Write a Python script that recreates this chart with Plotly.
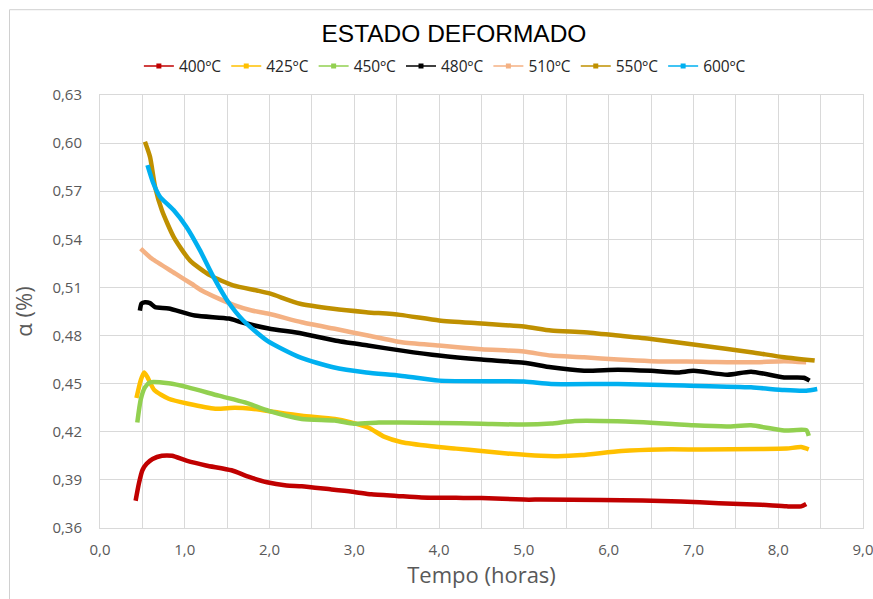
import plotly.graph_objects as go

# Tempo (horas) e fração α (%) para cada temperatura
t_400 = [0.42, 0.46, 0.50, 0.55, 0.62, 0.73, 0.85, 1.02, 1.25, 1.55, 1.75, 1.97, 2.20, 2.38, 2.73, 3.00, 3.20, 3.50, 3.79, 4.20, 4.50, 5.00, 5.20, 5.91, 6.40, 6.85, 7.30, 7.80, 8.10, 8.27, 8.33]
a_400 = [0.377, 0.388, 0.396, 0.400, 0.403, 0.405, 0.405, 0.402, 0.399, 0.396, 0.392, 0.3885, 0.3865, 0.386, 0.384, 0.3825, 0.381, 0.380, 0.379, 0.3788, 0.3787, 0.3777, 0.3777, 0.3775, 0.3772, 0.3765, 0.3755, 0.3745, 0.3735, 0.3735, 0.375]

t_425 = [0.43, 0.48, 0.52, 0.56, 0.64, 0.81, 1.04, 1.36, 1.59, 1.79, 2.10, 2.38, 2.77, 2.95, 3.17, 3.35, 3.56, 3.91, 4.20, 4.50, 4.80, 5.20, 5.40, 5.68, 6.15, 6.60, 7.10, 7.80, 8.10, 8.27, 8.36]
a_425 = [0.441, 0.452, 0.457, 0.454, 0.446, 0.4406, 0.4375, 0.4344, 0.435, 0.4344, 0.432, 0.430, 0.428, 0.426, 0.4225, 0.417, 0.4135, 0.411, 0.4095, 0.408, 0.4065, 0.405, 0.4048, 0.4055, 0.408, 0.409, 0.409, 0.4092, 0.4095, 0.4105, 0.409]

t_450 = [0.44, 0.48, 0.53, 0.59, 0.81, 1.04, 1.40, 1.71, 1.99, 2.38, 2.77, 3.00, 3.29, 3.56, 4.00, 4.50, 5.00, 5.32, 5.60, 6.10, 6.70, 7.00, 7.40, 7.68, 8.07, 8.33, 8.36]
a_450 = [0.4258, 0.440, 0.4477, 0.4508, 0.4502, 0.4477, 0.4425, 0.4383, 0.433, 0.428, 0.427, 0.425, 0.4258, 0.4258, 0.4255, 0.425, 0.4245, 0.4252, 0.4267, 0.4265, 0.425, 0.424, 0.4233, 0.424, 0.4208, 0.421, 0.4175]

t_480 = [0.47, 0.49, 0.53, 0.59, 0.65, 0.81, 1.12, 1.52, 1.67, 1.99, 2.38, 2.77, 3.16, 3.56, 4.00, 4.50, 5.00, 5.32, 5.71, 6.11, 6.50, 6.82, 7.00, 7.40, 7.68, 8.07, 8.30, 8.37]
a_480 = [0.4956, 0.5000, 0.5008, 0.5002, 0.4977, 0.4969, 0.4925, 0.4906, 0.4883, 0.4844, 0.4813, 0.4769, 0.4738, 0.4706, 0.4675, 0.465, 0.4631, 0.4602, 0.4581, 0.4587, 0.458, 0.457, 0.458, 0.4556, 0.4575, 0.4539, 0.4537, 0.4519]

t_510 = [0.48, 0.61, 0.89, 1.08, 1.20, 1.40, 1.59, 1.79, 1.99, 2.38, 2.77, 3.16, 3.56, 4.00, 4.50, 5.00, 5.32, 5.71, 6.11, 6.50, 7.09, 7.68, 8.07, 8.33]
a_510 = [0.5342, 0.528, 0.5186, 0.5123, 0.5081, 0.503, 0.4988, 0.4956, 0.4936, 0.4883, 0.4842, 0.480, 0.4758, 0.4738, 0.4715, 0.470, 0.4675, 0.4665, 0.465, 0.464, 0.4637, 0.4633, 0.464, 0.4633]

t_550 = [0.53, 0.59, 0.65, 0.73, 0.87, 1.06, 1.30, 1.57, 1.85, 2.01, 2.36, 2.75, 3.14, 3.54, 4.00, 4.50, 5.00, 5.32, 5.71, 6.11, 6.50, 7.09, 7.68, 8.07, 8.43]
a_550 = [0.6008, 0.5914, 0.5727, 0.5581, 0.5414, 0.5269, 0.5175, 0.5113, 0.5081, 0.5061, 0.4998, 0.4967, 0.4946, 0.4929, 0.4894, 0.4875, 0.4856, 0.4831, 0.4821, 0.480, 0.4779, 0.4738, 0.4696, 0.4665, 0.4644]

t_600 = [0.56, 0.63, 0.71, 0.87, 1.02, 1.18, 1.34, 1.50, 1.69, 1.97, 2.36, 2.75, 3.14, 3.54, 4.00, 5.00, 5.32, 6.11, 6.89, 7.68, 8.07, 8.33, 8.46]
a_600 = [0.5863, 0.5748, 0.5664, 0.5581, 0.5477, 0.5331, 0.5164, 0.5019, 0.4894, 0.4769, 0.4664, 0.4602, 0.457, 0.455, 0.4519, 0.4513, 0.4498, 0.4498, 0.4488, 0.4477, 0.446, 0.4456, 0.4467]

series = [
    ("400ºC", t_400, a_400, "#C00000"),
    ("425ºC", t_425, a_425, "#FFC000"),
    ("450ºC", t_450, a_450, "#92D050"),
    ("480ºC", t_480, a_480, "#000000"),
    ("510ºC", t_510, a_510, "#F4B183"),
    ("550ºC", t_550, a_550, "#BF9000"),
    ("600ºC", t_600, a_600, "#00B0F0"),
]

fig = go.Figure()

# curvas
for name, t, a, color in series:
    fig.add_trace(go.Scatter(
        x=t, y=a, mode="lines", name=name, showlegend=False,
        line=dict(color=color, width=4.5, shape="spline", smoothing=0.6),
        hoverinfo="x+y+name",
    ))

# entradas da legenda (linha curta com marcador quadrado)
for name, t, a, color in series:
    fig.add_trace(go.Scatter(
        x=[None], y=[None], mode="lines+markers", name=name,
        line=dict(color=color, width=1.5),
        marker=dict(color=color, symbol="square", size=5),
    ))

grid = "#D9D9D9"
tick_font = dict(family="Open Sans", size=15, color="#595959")

fig.update_layout(
    width=873, height=599,
    margin=dict(l=100, r=10, t=95, b=71),
    paper_bgcolor="white", plot_bgcolor="white",
    separators=",.",
    title=dict(text="ESTADO DEFORMADO", x=0.52, xanchor="center",
               y=0.945, yanchor="middle",
               font=dict(family="Liberation Sans", size=24.5, color="#000000")),
    legend=dict(orientation="h", x=0.452, xanchor="center", y=1.066, yanchor="middle",
                font=dict(family="Open Sans", size=15.5, color="#262626"),
                itemwidth=30, tracegroupgap=0, bgcolor="rgba(0,0,0,0)"),
    xaxis=dict(range=[0, 9], dtick=1, tick0=0, tickformat=".1f", automargin=False,
               ticklabeloverflow="allow",
               showgrid=True, gridcolor=grid, gridwidth=1,
               minor=dict(dtick=0.5, showgrid=True, gridcolor=grid, gridwidth=1),
               showline=True, linecolor=grid, mirror=True, zeroline=False,
               ticks="", tickfont=tick_font, ticklabelstandoff=8,
               title=dict(text="Tempo (horas)", standoff=8,
                          font=dict(family="Open Sans", size=22, color="#595959"))),
    yaxis=dict(range=[0.36, 0.63], dtick=0.03, tick0=0.36, tickformat=".2f", automargin=False,
               showgrid=True, gridcolor=grid, gridwidth=1,
               showline=True, linecolor=grid, mirror=True, zeroline=False,
               ticks="", tickfont=tick_font, ticklabelstandoff=14,
               title=dict(text="α (%)", standoff=13,
                          font=dict(family="Open Sans", size=22, color="#595959"))),
    showlegend=True,
)

# moldura externa do gráfico
fig.add_shape(type="line", xref="paper", yref="paper", x0=-0.1186, x1=-0.1186, y0=-0.2, y1=1.197,
              line=dict(color="#D0D0D0", width=1))
fig.add_shape(type="line", xref="paper", yref="paper", x0=-0.1186, x1=1.05, y0=1.197, y1=1.197,
              line=dict(color="#D0D0D0", width=1))

fig.write_html("out.html")
